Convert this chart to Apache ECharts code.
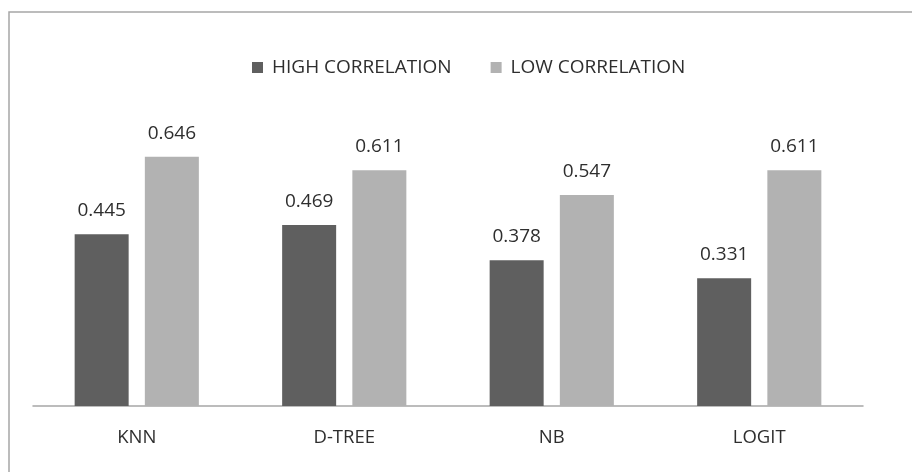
<!DOCTYPE html>
<html>
<head>
<meta charset="utf-8">
<script src="https://cdn.jsdelivr.net/npm/echarts@6/dist/echarts.min.js"></script>
<style>
  html, body { margin: 0; padding: 0; background: #fff; }
  #chart { width: 912px; height: 472px; }
</style>
</head>
<body>
<div id="chart"></div>
<script>
// Classifier accuracy under high vs. low feature correlation
const categories = ['KNN', 'D-TREE', 'NB', 'LOGIT'];
const highCorrelation = [0.445, 0.469, 0.378, 0.331];
const lowCorrelation = [0.646, 0.611, 0.547, 0.611];

const FONT = '"Open Sans", "DejaVu Sans", sans-serif';
const TEXT = '#2e2e2e';

const chart = echarts.init(document.getElementById('chart'), null, { renderer: 'canvas' });

const labelStyle = {
  show: true,
  position: 'top',
  distance: 14,
  color: TEXT,
  fontFamily: FONT,
  fontSize: 19,
  formatter: p => p.value.toFixed(3)
};

chart.setOption({
  animation: false,
  backgroundColor: '#ffffff',
  graphic: [{
    type: 'rect',
    shape: { x: 9, y: 12, width: 1000, height: 1000 },
    style: { fill: 'none', stroke: '#a6a6a6', lineWidth: 1.5 },
    silent: true
  }],
  legend: {
    left: 252,
    top: 58,
    padding: 0,
    itemWidth: 11,
    itemHeight: 11,
    itemGap: 39,
    icon: 'rect',
    textStyle: { color: TEXT, fontFamily: FONT, fontSize: 19, padding: [0, 0, 0, 4] },
    data: ['HIGH CORRELATION', 'LOW CORRELATION']
  },
  grid: { left: 33, right: 49, top: 136, bottom: 66, containLabel: false },
  xAxis: {
    type: 'category',
    data: categories,
    axisLine: { lineStyle: { color: '#a6a6a6', width: 1.5 } },
    axisTick: { show: false },
    axisLabel: { color: TEXT, fontFamily: FONT, fontSize: 18.5, margin: 22 }
  },
  yAxis: {
    type: 'value',
    min: 0,
    max: 0.7,
    show: false,
    splitLine: { show: false }
  },
  series: [
    {
      name: 'HIGH CORRELATION',
      type: 'bar',
      data: highCorrelation,
      barWidth: 54,
      barGap: '30%',
      itemStyle: { color: '#5f5f5f' },
      label: labelStyle
    },
    {
      name: 'LOW CORRELATION',
      type: 'bar',
      data: lowCorrelation,
      barWidth: 54,
      barGap: '30%',
      itemStyle: { color: '#b2b2b2' },
      label: labelStyle
    }
  ]
});
</script>
</body>
</html>
